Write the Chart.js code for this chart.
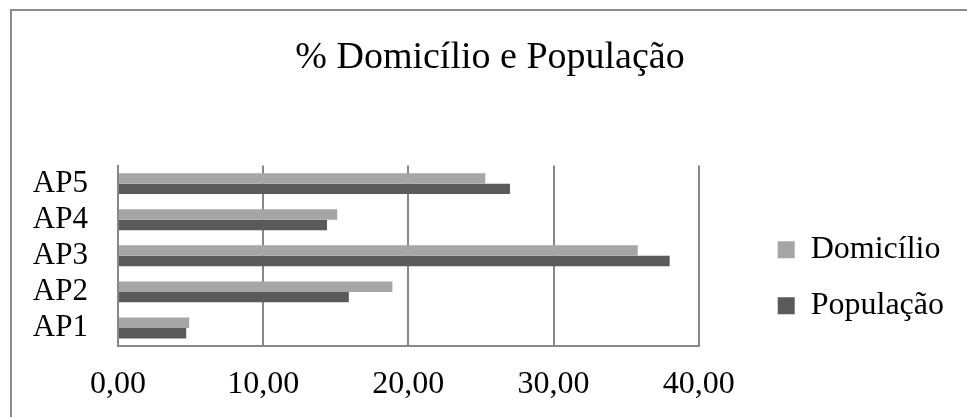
<!DOCTYPE html>
<html>
<head>
<meta charset="utf-8">
<script src="https://cdn.jsdelivr.net/npm/chart.js@4.4.1/dist/chart.umd.min.js"></script>
<style>
  html, body { margin: 0; padding: 0; background: #ffffff; }
  #wrap { position: relative; width: 967px; height: 417px; }
</style>
</head>
<body>
<div id="wrap"><canvas id="c"></canvas></div>
<script>
const categories = ['AP1', 'AP2', 'AP3', 'AP4', 'AP5'];
const domicilio = [4.9, 18.9, 35.8, 15.1, 25.3];
const populacao = [4.7, 15.9, 38.0, 14.4, 27.0];
const xTickLabels = ['0,00', '10,00', '20,00', '30,00', '40,00'];
const seriesNames = ['Domicílio', 'População'];
const chartTitle = '% Domicílio e População';

const FONT = "'Liberation Serif', 'Times New Roman', serif";
const GRID = '#878787';

const frame = {
  id: 'frame',
  beforeDraw(chart) {
    const ctx = chart.ctx;
    ctx.save();
    ctx.fillStyle = '#ffffff';
    ctx.fillRect(0, 0, chart.width, chart.height);
    ctx.strokeStyle = '#8c8c8c';
    ctx.lineWidth = 2;
    ctx.strokeRect(11, 10, chart.width + 20, chart.height + 20);
    ctx.restore();
  }
};

const boxNudge = {
  id: 'boxNudge',
  afterLayout(chart) {
    const L = chart.legend;
    if (L) {
      const dx = 55, dy = 22;
      L.left += dx; L.right += dx;
      L.top += dy; L.bottom += dy;
    }
    const T = chart.titleBlock;
    if (T) {
      const tx = 34;
      T.left += tx; T.right += tx;
    }
  }
};

new Chart(document.getElementById('c'), {
  type: 'bar',
  data: {
    labels: categories,
    datasets: [
      { label: seriesNames[0], data: domicilio, backgroundColor: '#a6a6a6', borderWidth: 0 },
      { label: seriesNames[1], data: populacao, backgroundColor: '#5a5a5a', borderWidth: 0 }
    ]
  },
  options: {
    indexAxis: 'y',
    responsive: true,
    maintainAspectRatio: false,
    animation: false,
    devicePixelRatio: 1,
    datasets: { bar: { categoryPercentage: 0.58, barPercentage: 1.0 } },
    layout: { padding: { left: 13, right: 68, top: 0, bottom: 0 } },
    scales: {
      x: {
        min: 0, max: 40,
        ticks: {
          stepSize: 10,
          color: '#000000',
          font: { family: FONT, size: 32 },
          padding: 19,
          maxRotation: 0,
          callback: (v, i) => xTickLabels[i]
        },
        grid: { display: true, color: GRID, lineWidth: 2, drawTicks: false },
        border: { display: true, color: GRID, width: 2 },
        afterFit(scale) { scale.height = 71; }
      },
      y: {
        reverse: true,
        ticks: { color: '#000000', font: { family: FONT, size: 31 }, padding: 30, autoSkip: false },
        grid: { display: false, drawTicks: false },
        border: { display: true, color: GRID, width: 2 },
        afterFit(scale) { scale.width = 118 - 13; }
      }
    },
    plugins: {
      title: {
        display: true,
        text: chartTitle,
        color: '#000000',
        font: { family: FONT, size: 38, weight: 'normal' },
        padding: { top: 35, bottom: 85 }
      },
      legend: {
        display: true,
        position: 'right',
        fullSize: false,
        labels: {
          color: '#000000',
          font: { family: FONT, size: 32 },
          boxWidth: 17,
          boxHeight: 17,
          padding: 24
        }
      },
      tooltip: { enabled: false }
    }
  },
  plugins: [frame, boxNudge]
});
</script>
</body>
</html>
